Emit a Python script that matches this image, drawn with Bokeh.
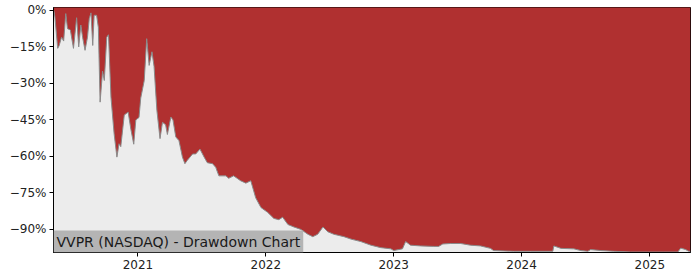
import pandas as pd
from bokeh.plotting import figure
from bokeh.models import Range1d, FixedTicker, Label, DatetimeTickFormatter
from bokeh.embed import file_html
from bokeh.resources import INLINE

dates = [
    "2020-05-06", "2020-05-09", "2020-05-17", "2020-05-21", "2020-05-28", "2020-06-03",
    "2020-06-09", "2020-06-14", "2020-06-22", "2020-07-01", "2020-07-10", "2020-07-16",
    "2020-07-22", "2020-07-27", "2020-08-03", "2020-08-10", "2020-08-15", "2020-08-20",
    "2020-08-25", "2020-08-29", "2020-09-05", "2020-09-10", "2020-09-15", "2020-09-22",
    "2020-09-27", "2020-10-04", "2020-10-09", "2020-10-16", "2020-10-25", "2020-11-02",
    "2020-11-08", "2020-11-13", "2020-11-23", "2020-12-04", "2020-12-12", "2020-12-20",
    "2020-12-26", "2021-01-04", "2021-01-09", "2021-01-19", "2021-01-26", "2021-02-02",
    "2021-02-10", "2021-02-16", "2021-02-24", "2021-03-05", "2021-03-12", "2021-03-21",
    "2021-03-26", "2021-04-05", "2021-04-11", "2021-04-19", "2021-04-28", "2021-05-08",
    "2021-05-15", "2021-05-22", "2021-06-06", "2021-06-15", "2021-06-27", "2021-07-09",
    "2021-07-18", "2021-08-02", "2021-08-11", "2021-08-20", "2021-09-09", "2021-09-17",
    "2021-10-01", "2021-10-21", "2021-11-05", "2021-11-19", "2021-12-03", "2021-12-18",
    "2022-01-06", "2022-01-24", "2022-02-07", "2022-02-18", "2022-03-05", "2022-03-22",
    "2022-04-11", "2022-05-01", "2022-05-15", "2022-05-29", "2022-06-13", "2022-06-27",
    "2022-07-14", "2022-08-12", "2022-09-01", "2022-09-29", "2022-10-28", "2022-11-25",
    "2022-12-24", "2023-01-01", "2023-01-26", "2023-02-04", "2023-02-18", "2023-03-19",
    "2023-04-25", "2023-05-09", "2023-05-21", "2023-06-12", "2023-07-11", "2023-08-08",
    "2023-09-06", "2023-10-04", "2023-10-13", "2023-12-09", "2024-01-27", "2024-03-30",
    "2024-04-02", "2024-04-22", "2024-05-29", "2024-06-18", "2024-07-08", "2024-07-16",
    "2024-08-14", "2024-09-20", "2024-11-07", "2024-12-26", "2025-02-10", "2025-03-22",
    "2025-03-30", "2025-04-13", "2025-04-22", "2025-04-27",
]
drawdown = [
    0.0, -2.7, -15.6, -14.5, -11.0, -12.6,
    -1.3, -7.5, -8.0, -15.6, -3.0, -15.0,
    -6.0, -11.0, -16.4, -11.0, -3.4, -1.0,
    -14.4, -2.0, -2.0, -7.0, -37.7, -25.0,
    -28.8, -11.0, -10.0, -35.6, -50.7, -60.3,
    -54.8, -56.0, -43.0, -41.8, -49.0, -55.0,
    -45.0, -44.0, -36.0, -28.8, -11.6, -22.6,
    -17.0, -23.0, -41.0, -52.7, -46.0, -47.0,
    -51.0, -43.8, -45.0, -52.0, -53.5, -60.3,
    -63.0, -61.6, -59.0, -59.0, -57.0, -60.3,
    -62.6, -63.0, -64.5, -68.0, -68.0, -69.0,
    -68.0, -70.0, -71.0, -70.0, -77.0, -81.0,
    -83.0, -85.5, -86.0, -85.0, -88.0, -89.0,
    -90.0, -92.0, -93.0, -92.0, -89.0, -91.0,
    -92.0, -93.0, -94.0, -95.0, -96.5, -97.5,
    -98.0, -98.7, -98.0, -95.0, -96.5, -96.8,
    -97.0, -97.0, -96.0, -95.8, -95.8, -96.5,
    -96.8, -97.8, -98.7, -99.0, -99.0, -99.0,
    -96.8, -97.8, -98.0, -98.7, -99.0, -98.3,
    -98.7, -99.0, -99.3, -99.3, -99.3, -99.3,
    -97.7, -98.3, -99.0, -99.0,
]
y_ticks = [0, -15, -30, -45, -60, -75, -90]
y_tick_labels = ["0%", "\u221215%", "\u221230%", "\u221245%", "\u221260%", "\u221275%", "\u221290%"]
x_ticks = ["2021-01-01", "2022-01-01", "2023-01-01", "2024-01-01", "2025-01-01"]
title_text = "VVPR (NASDAQ) - Drawdown Chart"

x = pd.to_datetime(dates)
top = [1.5] * len(drawdown)

p = figure(width=700, height=280, output_backend="svg", toolbar_location=None,
           x_axis_type="datetime",
           x_range=Range1d(pd.Timestamp("2020-05-05"), pd.Timestamp("2025-04-27")),
           y_range=Range1d(-99.5, 1.2),
           min_border_left=53, min_border_right=10, min_border_top=7, min_border_bottom=28)

p.background_fill_color = "#ececec"
p.border_fill_color = "white"
p.outline_line_color = "black"
p.outline_line_width = 1
p.xgrid.visible = False
p.ygrid.visible = False

p.varea(x=x, y1=drawdown, y2=top, fill_color="#b03030")
p.line(x=x, y=drawdown, line_color="#8a8a8a", line_width=1)

p.yaxis.ticker = FixedTicker(ticks=y_ticks)
p.yaxis.major_label_overrides = {t: l for t, l in zip(y_ticks, y_tick_labels)}
xt = [pd.Timestamp(d).value / 1e6 for d in x_ticks]
p.xaxis.ticker = FixedTicker(ticks=xt)
p.xaxis.formatter = DatetimeTickFormatter(years="%Y", months="%Y", days="%Y")

for ax in (p.xaxis, p.yaxis):
    ax.major_label_text_font = "DejaVu Sans"
    ax.major_label_text_font_size = "12px"
    ax.major_label_text_color = "#222222"
    ax.axis_line_color = "black"
    ax.major_tick_line_color = "black"
    ax.major_tick_out = 4
    ax.major_tick_in = 0
    ax.minor_tick_line_color = None
p.yaxis.major_label_standoff = 3
p.xaxis.major_label_standoff = 3

lab = Label(x=0, y=0, x_units="screen", y_units="screen", text=title_text,
            text_font="DejaVu Sans", text_font_size="14px", text_color="#1a1a1a",
            background_fill_color="#b4b4b4", padding=3)
p.add_layout(lab)

open("out.html", "w").write(file_html(p, INLINE))
